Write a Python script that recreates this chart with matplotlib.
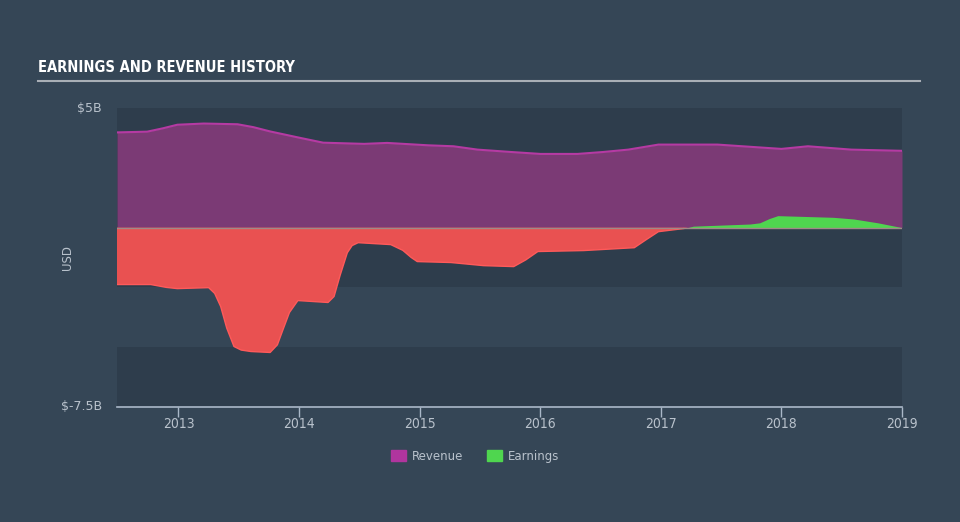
import numpy as np
import matplotlib.pyplot as plt
from matplotlib.patches import Patch

# values in $B
rev_years = [2012.49, 2012.74, 2012.87, 2012.99, 2013.21, 2013.49, 2013.62, 2013.76, 2014.00,
             2014.20, 2014.54, 2014.73, 2015.07, 2015.28, 2015.48, 2015.76, 2016.00,
             2016.31, 2016.52, 2016.73, 2016.98, 2017.47, 2018.00, 2018.22, 2018.58,
             2019.00]
revenue = [3.98, 4.01, 4.15, 4.30, 4.35, 4.32, 4.20, 4.02, 3.76,
           3.55, 3.50, 3.54, 3.44, 3.40, 3.26, 3.16, 3.08,
           3.08, 3.16, 3.26, 3.47, 3.47, 3.29, 3.40, 3.26,
           3.21]

earn_years = [2012.49, 2012.77, 2012.90, 2012.99, 2013.25, 2013.30, 2013.35, 2013.40,
              2013.46, 2013.52, 2013.60, 2013.76, 2013.82, 2013.87, 2013.92, 2013.99,
              2014.24, 2014.29, 2014.34, 2014.40, 2014.44, 2014.49, 2014.76, 2014.86,
              2014.93, 2014.98, 2015.26, 2015.53, 2015.78, 2015.88, 2015.98, 2016.36,
              2016.78, 2016.88, 2016.98, 2017.19, 2017.27, 2017.74, 2017.82, 2017.90,
              2017.97, 2018.43, 2018.60, 2018.80, 2019.00]
earnings = [-2.38, -2.38, -2.50, -2.55, -2.51, -2.75, -3.30, -4.20,
            -4.97, -5.12, -5.18, -5.22, -4.90, -4.22, -3.55, -3.05,
            -3.13, -2.88, -2.00, -1.05, -0.75, -0.63, -0.71, -0.95,
            -1.25, -1.42, -1.46, -1.59, -1.63, -1.35, -1.00, -0.96,
            -0.84, -0.50, -0.17, -0.04, 0.06, 0.15, 0.20, 0.38,
            0.50, 0.43, 0.36, 0.20, 0.00]

x_ticks = [2013, 2014, 2015, 2016, 2017, 2018, 2019]

BG = '#354656'
BAND = '#2e3d4c'
TXT = '#b9c2cc'

fig = plt.figure(figsize=(9.6, 5.22), dpi=100)
fig.patch.set_facecolor(BG)

# title + underline
fig.text(38 / 960, 1 - 68 / 522, 'EARNINGS AND REVENUE HISTORY', color='white',
         fontsize=10.5, fontweight='bold', family='DejaVu Sans', fontstretch='condensed',
         va='center', ha='left')
fig.add_artist(plt.Line2D([38 / 960, 920 / 960], [1 - 81 / 522, 1 - 81 / 522],
                          color='#a9afb6', lw=1.5))

ax = fig.add_axes([117 / 960, 1 - 407 / 522, 785 / 960, 299 / 522])
ax.set_facecolor('none')
ax.set_xlim(2012.49, 2019.0)
ax.set_ylim(-7.5, 5)

# background bands
ax.axhspan(-2.5, 5, color=BAND, lw=0, zorder=0)
ax.axhspan(-7.5, -5, color=BAND, lw=0, zorder=0)

rx = np.array(rev_years)
ry = np.array(revenue)
ex = np.array(earn_years)
ey = np.array(earnings)

ax.fill_between(rx, 0, ry, color='#7b3a75', lw=0, zorder=2)
ax.plot(rx, ry, color='#b53aa3', lw=1.5, zorder=3)

ax.fill_between(ex, 0, ey, where=ey <= 0, interpolate=True, color='#e95151', lw=0, zorder=2)
ax.fill_between(ex, 0, ey, where=ey >= 0, interpolate=True, color='#4fd64f', lw=0, zorder=2)
ey_neg = np.where(ey <= 0, ey, np.nan)
ax.plot(ex, ey_neg, color='#ff5a5a', lw=1, zorder=3)
ax.axhline(0, color='#a08a88', lw=1, zorder=4)

for s in ['top', 'right', 'left']:
    ax.spines[s].set_visible(False)
ax.spines['bottom'].set_color('#aab8c8')
ax.spines['bottom'].set_linewidth(1.2)

ax.set_xticks(x_ticks)
ax.set_xticklabels([str(t) for t in x_ticks], color=TXT, fontsize=10,
                   family='DejaVu Sans', fontstretch='condensed')
ax.tick_params(axis='x', colors='#aab8c8', length=7, width=1, pad=0, labelcolor=TXT)
ax.set_yticks([])

fig.text(102 / 960, 1 - 108 / 522, '$5B', color=TXT, fontsize=9, ha='right', va='center')
fig.text(102 / 960, 1 - 406 / 522, '$-7.5B', color=TXT, fontsize=9, ha='right', va='center')
fig.text(67 / 960, 1 - 258 / 522, 'USD', color=TXT, fontsize=8.5, rotation=90,
         ha='center', va='center')

handles = [Patch(color='#b0359e', label='Revenue'), Patch(color='#4fd64f', label='Earnings')]
fig.legend(handles=handles, loc='center', bbox_to_anchor=(475 / 960, 1 - 456 / 522),
           ncol=2, frameon=False, fontsize=8.5, labelcolor=TXT, handlelength=1.3,
           handleheight=1.0, columnspacing=2.0, handletextpad=0.5)

plt.savefig('out.png', facecolor=BG)
